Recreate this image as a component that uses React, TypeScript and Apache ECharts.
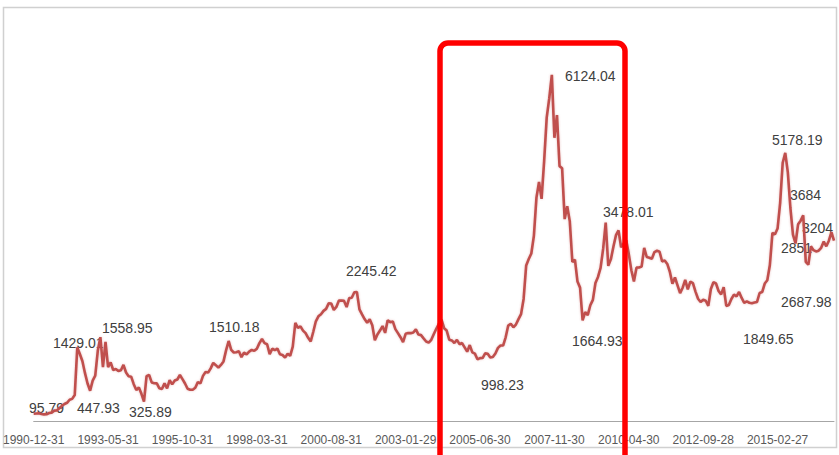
import React, { useEffect, useRef } from "react";
import * as echarts from "echarts";

// Monthly closes of the index, 1990-12 .. 2016-12
const close1990s: number[] = [
  127.61,
  129.97, 133.01, 120.19, 113.94, 114.83, 137.56, 143.8, 178.43, 180.92, 218.64, 259.6, 292.75,
  313.24, 365.3, 380.46, 445.4, 1265.79, 1152.27, 1027.61, 822.9, 645.88, 519.62, 694.85, 780.39,
  1210.97, 1440.82, 925.91, 1358.78, 927.14, 1007.07, 877.51, 893.63, 859.12, 873.85, 965.18, 833.8,
  770.24, 762.29, 633.64, 531.6, 578.28, 467.01, 333.92, 771.49, 793.0, 663.0, 650.03, 647.87,
  562.59, 549.26, 647.61, 562.81, 700.51, 629.89, 695.4, 714.04, 791.3, 720.51, 645.08, 555.29,
  537.35, 537.63, 571.14, 667.98, 646.64, 775.6, 842.72, 832.35, 905.74, 999.62, 960.34, 917.02,
  964.75, 1024.81, 1213.94, 1376.11, 1224.93, 1178.43, 1183.24, 1198.78, 1097.39, 1174.76, 1147.22, 1194.1,
  1222.7, 1206.53, 1243.05, 1339.96, 1411.2, 1339.11, 1319.8, 1150.31, 1243.53, 1217.31, 1247.57, 1146.7,
  1134.67, 1090.08, 1158.05, 1120.6, 1279.32, 1689.42, 1601.31, 1627.46, 1555.56, 1512.0, 1430.99, 1366.58,
];
const close2000s: number[] = [
  1534.99, 1714.58, 1800.22, 1836.32, 1894.55, 1928.11, 2023.17, 2021.18, 1910.16, 1961.28, 2070.61, 2073.48,
  2065.59, 1959.18, 2112.77, 2119.18, 2214.26, 2218.03, 1920.32, 1834.09, 1752.42, 1689.53, 1747.56, 1645.97,
  1388.98, 1488.99, 1555.88, 1633.35, 1515.73, 1732.79, 1700.37, 1713.18, 1580.25, 1511.91, 1440.8, 1357.65,
  1499.81, 1511.59, 1510.73, 1521.47, 1576.26, 1486.02, 1476.74, 1421.12, 1367.16, 1348.3, 1397.22, 1497.04,
  1590.73, 1675.07, 1741.62, 1595.59, 1555.91, 1399.16, 1386.2, 1342.06, 1396.7, 1320.54, 1340.77, 1266.5,
  1191.82, 1306.0, 1181.24, 1159.15, 1060.74, 1080.94, 1083.03, 1162.8, 1155.61, 1092.82, 1099.26, 1161.06,
  1258.05, 1299.03, 1298.3, 1440.22, 1641.3, 1672.21, 1612.73, 1658.64, 1752.42, 1837.99, 2099.29, 2675.47,
  2786.34, 2881.07, 3183.98, 3841.27, 4109.65, 3820.7, 4471.03, 5218.82, 5552.3, 5954.77, 4871.78, 5261.56,
  4383.39, 4348.54, 3472.71, 3693.11, 3433.35, 2736.1, 2775.72, 2397.37, 2293.78, 1728.79, 1871.16, 1820.81,
  1990.66, 2082.85, 2373.21, 2477.57, 2632.93, 2959.36, 3412.06, 2667.75, 2779.43, 2995.85, 3195.3, 3277.14,
];
const close2010s: number[] = [
  2989.29, 3051.94, 3109.1, 2870.61, 2592.15, 2398.37, 2637.5, 2638.8, 2655.66, 2978.83, 2820.18, 2808.08,
  2790.69, 2905.05, 2928.11, 2911.51, 2743.47, 2762.08, 2701.73, 2567.34, 2359.22, 2468.25, 2333.41, 2199.42,
  2292.61, 2428.49, 2262.79, 2396.32, 2372.23, 2225.43, 2103.63, 2047.52, 2086.17, 2068.88, 1980.12, 2269.13,
  2385.42, 2365.59, 2236.62, 2177.91, 2300.59, 1979.21, 1993.8, 2098.38, 2174.67, 2141.61, 2220.5, 2115.98,
  2033.08, 2056.3, 2033.31, 2026.36, 2039.21, 2048.33, 2201.56, 2217.2, 2363.87, 2420.18, 2682.83, 3234.68,
  3210.36, 3310.3, 3747.9, 4441.66, 4611.74, 4277.22, 3663.73, 3205.99, 3052.78, 3382.56, 3445.4, 3539.18,
  2737.6, 2687.98, 3003.92, 2938.32, 2916.62, 2929.61, 2979.34, 3085.49, 3004.7, 3100.49, 3250.03, 3103.64,
];
const closes: number[] = [...close1990s, ...close2000s, ...close2010s];

// Month categories (1990-12 onward)
const startYear = 1990;
const startMonth = 12;
const months: string[] = closes.map((_, i) => {
  const m0 = startMonth - 1 + i;
  const y = startYear + Math.floor(m0 / 12);
  const m = (m0 % 12) + 1;
  return `${y}-${String(m).padStart(2, "0")}`;
});

// Tick labels shown every 29 months
const tickStep = 29;
const tickLabels: string[] = [
  "1990-12-31", "1993-05-31", "1995-10-31", "1998-03-31", "2000-08-31", "2003-01-29",
  "2005-06-30", "2007-11-30", "2010-04-30", "2012-09-28", "2015-02-27",
];

// Annotation texts
const annotationTexts: string[] = [
  "95.79", "447.93", "325.89", "1429.01", "1558.95", "1510.18", "2245.42", "998.23",
  "6124.04", "1664.93", "3478.01", "1849.65", "5178.19", "3684", "2851", "3204", "2687.98",
];
// pixel placement for each annotation (left x, middle y)
const annotationPos: [number, number][] = [
  [29, 408], [77, 408], [129, 412], [53, 343], [102, 328], [209, 327], [346, 271], [481, 385],
  [565, 76], [572, 341], [603, 212], [743, 339], [772, 140], [790, 195], [781, 248], [802, 228], [781, 302],
];

const FONT = '"Liberation Sans", Arial, sans-serif';

export default function App() {
  const ref = useRef<HTMLDivElement>(null);
  useEffect(() => {
    if (!ref.current) return;
    const chart = echarts.init(ref.current, undefined, { renderer: "svg" });
    const texts = annotationTexts.map((t, i) => ({
      type: "text",
      x: annotationPos[i][0],
      y: annotationPos[i][1],
      z: 1,
      style: {
        text: t,
        fill: "#404040",
        font: `14px ${FONT}`,
        align: "left",
        verticalAlign: "middle",
      },
    }));
    chart.setOption({
      animation: false,
      backgroundColor: "#ffffff",
      grid: { left: 27, right: 5, top: 14, bottom: 34 },
      xAxis: {
        type: "category",
        data: months,
        boundaryGap: false,
        axisLine: { show: true, lineStyle: { color: "#a6a6a6", width: 1 } },
        axisTick: { show: false },
        axisLabel: {
          interval: (i: number) => i % tickStep === 0,
          hideOverlap: false,
          margin: 13,
          color: "#595959",
          fontSize: 12,
          fontFamily: FONT,
          formatter: (v: string, i: number) =>
            i % tickStep === 0 && tickLabels[i / tickStep] ? tickLabels[i / tickStep] : v,
        },
        splitLine: { show: false },
      },
      yAxis: {
        type: "value",
        min: 0,
        max: 7000,
        show: false,
        splitLine: { show: false },
      },
      series: [
        {
          type: "line",
          data: closes,
          symbol: "none",
          z: 2,
          lineStyle: {
            color: "#c0504d",
            width: 2.6,
            shadowColor: "rgba(192,80,77,0.35)",
            shadowBlur: 2,
          },
        },
      ],
      graphic: [
        {
          type: "rect",
          z: 0,
          silent: true,
          shape: { x: 3.5, y: 7.5, width: 833, height: 440 },
          style: { fill: "none", stroke: "#d0d0d0", lineWidth: 1.5 },
        },
        ...texts,
        {
          type: "rect",
          z: 100,
          silent: true,
          shape: { x: 440, y: 43, width: 185, height: 440, r: 8 },
          style: { fill: "none", stroke: "#ff0000", lineWidth: 5.5 },
        },
      ],
    });
    return () => chart.dispose();
  }, []);
  return <div ref={ref} style={{ width: 839, height: 455, position: "absolute", left: 0, top: 0 }} />;
}
